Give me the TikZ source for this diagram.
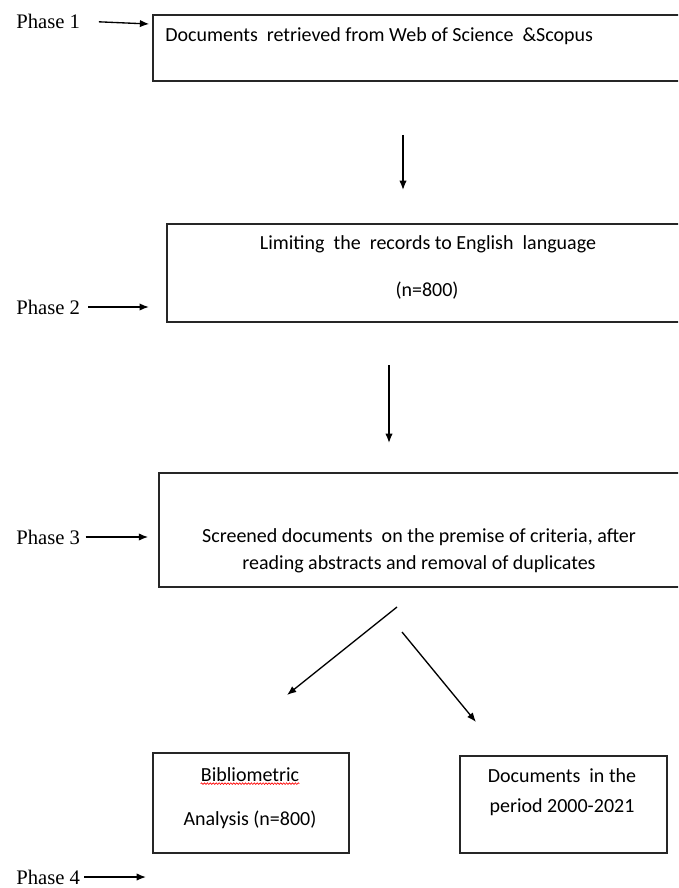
\documentclass[tikz,border=0pt]{standalone}
\usepackage{fontspec}
\setmainfont{Carlito}
\newfontfamily\phasefont{Liberation Serif}
\usetikzlibrary{calc,arrows.meta,decorations.pathmorphing}
\tikzstyle{box}=[rectangle,fill=white,inner sep=0pt,line width=1.2pt,draw=black!85,anchor=center]
\tikzstyle{annot}=[align=center,inner sep=0pt,font=\fontsize{15}{20}\selectfont]
\tikzstyle{phase}=[anchor=west,inner sep=0pt,font=\phasefont\fontsize{15.5}{18}\selectfont]
\tikzstyle{arr}=[-{Latex[length=7pt,width=5.5pt]},line width=1pt]

\begin{document}
\begin{tikzpicture}[x=0.75pt,y=-0.75pt]
	\useasboundingbox (0,0) rectangle (678,888);
	\clip (0,0) rectangle (678,888);

	% boxes of the four phases
	\node[box, minimum width=401.25pt, minimum height=49.5pt](box1) at (420.5,48){};
	\node[box, minimum width=390.75pt, minimum height=73.5pt](box2) at (427.5,273){};
	\node[box, minimum width=390.75pt, minimum height=85.5pt](box3) at (419.5,530){};
	\node[box, minimum width=147pt, minimum height=75pt](box4) at (251,803){};
	\node[box, minimum width=155.25pt, minimum height=72.75pt](box5) at (563.5,804.5){};

	\node[annot, anchor=west](t1) at (165,36){Documents\ \ retrieved from Web of Science\ \ \&Scopus};
	\node[annot](t2a) at (428,244){Limiting\ \ the\ \ records to English\ \ language};
	\node[annot](t2b) at (427,291){(n=800)};
	\node[annot](t3) at (419,551){Screened documents\ \ on the premise of criteria, after\\ reading abstracts and removal of duplicates};
	\node[annot](t4a) at (250,775){Bibliometric};
	\node[annot](t4b) at (250,820){Analysis (n=800)};
	\node[annot, font=\fontsize{15}{22.5}\selectfont](t5) at (562,792){Documents\ \ in the\\ period 2000-2021};
	%\draw[red] (t4a.south west) -- (t4a.south east);
	\draw[red, line width=0.5pt, decorate, decoration={snake, amplitude=0.6pt, segment length=2.2pt}]
		([yshift=-1pt]t4a.south west) -- ([yshift=-1pt]t4a.south east);

	% phase labels
	\node[phase](p1) at (16,21){Phase 1};
	\node[phase](p2) at (16,307){Phase 2};
	\node[phase](p3) at (16,537){Phase 3};
	\node[phase](p4) at (16,877){Phase 4};
	\coordinate (p4e) at (146,877);

	\draw[arr, shorten <=14pt] (p1.east) -- ($(p1.east -| box1.west)+(-3,3)$);
	\draw[arr, shorten <=6pt, shorten >=13pt] (p2.east) -- (p2.east -| box2.west);
	\draw[arr, shorten <=4pt, shorten >=7.5pt] (p3.east) -- (p3.east -| box3.west);
	\draw[arr, shorten <=3pt] (p4.east) -- (p4e);

	% arrows between the boxes
	\coordinate (d1s) at (403,135);
	\coordinate (d1e) at (403,190);
	\coordinate (d2s) at (389,365);
	\coordinate (d2e) at (389,443);
	\coordinate (l1s) at (397,607);
	\coordinate (l1e) at (287,695);
	\coordinate (r1s) at (402,632);
	\coordinate (r1e) at (476,722);
	\draw[arr] (d1s) -- (d1e);
	\draw[arr] (d2s) -- (d2e);
	\draw[arr] (l1s) -- (l1e);
	\draw[arr] (r1s) -- (r1e);

\end{tikzpicture}
\end{document}
